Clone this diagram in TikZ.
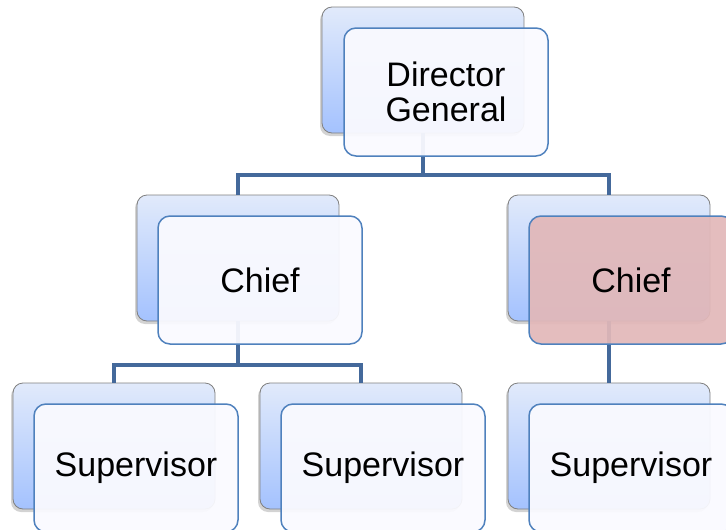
\documentclass[tikz,border=0pt]{standalone}
\usepackage{fontspec}
\setmainfont{Liberation Sans}
\usetikzlibrary{positioning,shadows}
\definecolor{busBlue}{HTML}{44699B}
\definecolor{edgeBlue}{HTML}{4F81BD}
\definecolor{backTop}{HTML}{E1EAFB}
\definecolor{backBottom}{HTML}{A4C2FE}
\definecolor{pinkFill}{HTML}{E2B8B9}

\begin{document}
\begin{tikzpicture}[
    x=1pt, y=-1pt,
    font=\fontsize{34}{35}\selectfont,
    back/.style={rectangle, rounded corners=10pt, draw=black!50, line width=.8pt,
      top color=backTop, bottom color=backBottom, minimum width=202pt, minimum height=126pt,
      drop shadow={shadow xshift=-2pt, shadow yshift=-3pt, opacity=.35}},
    front/.style={rectangle, rounded corners=12pt, draw=edgeBlue, line width=1.5pt,
      fill=blue!2, fill opacity=.94, text opacity=1, align=center,
      minimum width=204pt, minimum height=128pt},
    hot/.style={front, fill=pinkFill, fill opacity=.93},
    bus/.style={busBlue, line width=4.5pt}
]
\useasboundingbox (0,0) rectangle (726,530);

% Back boxes
\node[back] (dgB) at (423,70) {};
\node[back] (chLB) at (238,258) {};
\node[back] (chRB) at (609,258) {};
\node[back] (svAB) at (114,446) {};
\node[back] (svBB) at (361,446) {};
\node[back] (svCB) at (609,446) {};

% Bus lines
\coordinate (top bus) at (423,175);
\coordinate (left bus) at (238,365);
\draw[bus] (dgB.south) -- (top bus) -| (chLB.north);
\draw[bus] (top bus) -| (chRB.north);
\draw[bus] (chLB.south) -- (left bus) -| (svAB.north);
\draw[bus] (left bus) -| (svBB.north);
\draw[bus] (chRB.south) -- (svCB.north);

% Front boxes
\node[front, xshift=23pt, yshift=-22pt] (dg) at (dgB) {Director\\General};
\node[front, xshift=22pt, yshift=-22pt] (chL) at (chLB) {Chief};
\node[hot, xshift=22pt, yshift=-22pt] (chR) at (chRB) {Chief};
\node[front, xshift=22pt, yshift=-22pt] (svA) at (svAB) {Supervisor};
\node[front, xshift=22pt, yshift=-22pt] (svB) at (svBB) {Supervisor};
\node[front, xshift=22pt, yshift=-22pt] (svC) at (svCB) {Supervisor};

\end{tikzpicture}
\end{document}
